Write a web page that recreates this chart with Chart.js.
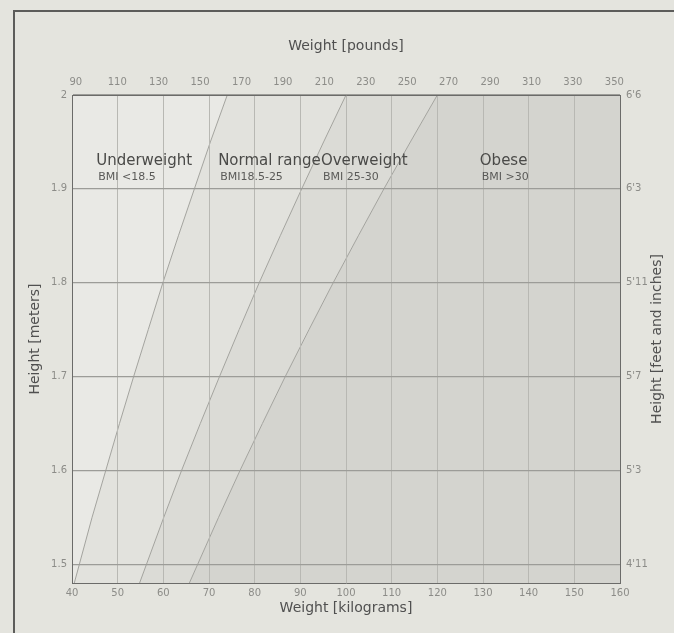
<!DOCTYPE html>
<html>
<head>
<meta charset="utf-8">
<title>BMI chart</title>
<script src="https://cdn.jsdelivr.net/npm/chart.js@4.4.1/dist/chart.umd.min.js"></script>
<style>
  html, body { margin: 0; padding: 0; background: #e4e4de; }
  #wrap { position: relative; width: 674px; height: 633px; overflow: hidden; }
  #frame { position: absolute; left: 13px; top: 10px; width: 700px; height: 700px;
           border-left: 2px solid #5c5c5a; border-top: 2px solid #5c5c5a; }
  canvas { position: absolute; left: 0; top: 0; }
</style>
</head>
<body>
<div id="wrap">
  <div id="frame"></div>
  <canvas id="bmiChart" width="674" height="633"></canvas>
</div>
<script>
// Axis ranges
const kgRange = [40, 160];
const meterRange = [1.48, 2.0];
const poundRange = [88.18, 352.74];

// Tick labels
const kgTicks = [40, 50, 60, 70, 80, 90, 100, 110, 120, 130, 140, 150, 160];
const meterTicks = [1.5, 1.6, 1.7, 1.8, 1.9, 2.0];
const poundTicks = [90, 110, 130, 150, 170, 190, 210, 230, 250, 270, 290, 310, 330, 350];
const feetInchLabels = ["4'11", "5'3", "5'7", "5'11", "6'3", "6'6"];

// BMI boundary curves (weight in kg at each height)
const heights = [1.48, 1.55, 1.6, 1.65, 1.7, 1.75, 1.8, 1.85, 1.9, 1.95, 2.0];
const bmi185Weights = [40.5, 44.4, 47.4, 50.4, 53.5, 56.7, 59.9, 63.3, 66.8, 70.3, 74.0];
const bmi25Weights = [54.8, 60.1, 64.0, 68.1, 72.3, 76.6, 81.0, 85.6, 90.3, 95.1, 100.0];
const bmi30Weights = [65.7, 72.1, 76.8, 81.7, 86.7, 91.9, 97.2, 102.7, 108.3, 114.1, 120.0];

// Region labels
const regionNames = ['Underweight', 'Normal range', 'Overweight', 'Obese'];
const regionRanges = ['BMI <18.5', 'BMI18.5-25', 'BMI 25-30', 'BMI >30'];
const regionLabelKg = [45.3, 72.0, 94.5, 129.3];

const regionColors = ['#e9e9e5', '#e2e2dd', '#dbdbd6', '#d4d4cf'];
const tickColor = '#8c8c88';
const titleColor = '#505050';

Chart.defaults.font.family = '"DejaVu Sans", sans-serif';

function curve(weights) {
    return weights.map((w, i) => ({ x: w, y: heights[i] }));
}

const lineStyle = { borderColor: '#a3a39e', borderWidth: 1, fill: false, pointRadius: 0 };
const areaStyle = { borderWidth: 0, pointRadius: 0, fill: 'shape' };

const labelsPlugin = {
    id: 'regionLabels',
    afterDraw(chart) {
        const { ctx, chartArea, scales: { x, y } } = chart;
        ctx.save();
        ctx.textAlign = 'left';
        ctx.textBaseline = 'middle';
        regionNames.forEach((name, i) => {
            const px = x.getPixelForValue(regionLabelKg[i]);
            ctx.font = '15px "DejaVu Sans"';
            ctx.fillStyle = '#4a4a48';
            ctx.fillText(name, px, y.getPixelForValue(1.93));
            ctx.font = '11px "DejaVu Sans"';
            ctx.fillStyle = '#5a5a58';
            ctx.fillText(regionRanges[i], px + 2, y.getPixelForValue(1.912));
        });
        // right axis title, reading upwards
        ctx.translate(657, (chartArea.top + chartArea.bottom) / 2);
        ctx.rotate(-Math.PI / 2);
        ctx.textAlign = 'center';
        ctx.font = '14px "DejaVu Sans"';
        ctx.fillStyle = titleColor;
        ctx.fillText('Height [feet and inches]', 0, 0);
        ctx.restore();
    }
};

const ctx = document.getElementById('bmiChart').getContext('2d');
new Chart(ctx, {
    type: 'line',
    data: {
        datasets: [
            { data: curve(bmi185Weights), ...lineStyle },
            { data: curve(bmi25Weights), ...lineStyle },
            { data: curve(bmi30Weights), ...lineStyle },
            {
                data: [...curve(bmi185Weights), { x: kgRange[0], y: meterRange[1] }, { x: kgRange[0], y: meterRange[0] }],
                backgroundColor: regionColors[0], ...areaStyle
            },
            {
                data: [...curve(bmi185Weights), ...curve(bmi25Weights).reverse()],
                backgroundColor: regionColors[1], ...areaStyle
            },
            {
                data: [...curve(bmi25Weights), ...curve(bmi30Weights).reverse()],
                backgroundColor: regionColors[2], ...areaStyle
            },
            {
                data: [...curve(bmi30Weights), { x: kgRange[1], y: meterRange[1] }, { x: kgRange[1], y: meterRange[0] }],
                backgroundColor: regionColors[3], ...areaStyle
            }
        ]
    },
    options: {
        responsive: false,
        animation: false,
        layout: { padding: 0 },
        plugins: {
            legend: { display: false },
            tooltip: { enabled: false }
        },
        scales: {
            x: {
                type: 'linear', position: 'bottom', min: kgRange[0], max: kgRange[1],
                afterBuildTicks: s => { s.ticks = kgTicks.map(v => ({ value: v })); },
                afterFit: s => { s.height = 50; },
                grid: { color: '#b8b8b3', lineWidth: 1, drawTicks: false, z: 1 },
                border: { color: '#6b6b69', width: 1, z: 2 },
                ticks: { padding: 4, color: tickColor, font: { size: 10 }, autoSkip: false, maxRotation: 0,
                         callback: v => String(v) },
                title: { display: true, text: 'Weight [kilograms]', color: titleColor, font: { size: 14 },
                         padding: { top: 0, bottom: 16 } }
            },
            x2: {
                type: 'linear', position: 'top', min: poundRange[0], max: poundRange[1],
                afterBuildTicks: s => { s.ticks = poundTicks.map(v => ({ value: v })); },
                afterFit: s => { s.height = 95; },
                grid: { display: false, drawTicks: false },
                border: { color: '#6b6b69', width: 1, z: 2 },
                ticks: { padding: 7, color: tickColor, font: { size: 10 }, autoSkip: false, maxRotation: 0,
                         callback: v => String(v) },
                title: { display: true, text: 'Weight [pounds]', color: titleColor, font: { size: 14 },
                         padding: { top: 38, bottom: 0 } }
            },
            y: {
                type: 'linear', position: 'left', min: meterRange[0], max: meterRange[1],
                afterBuildTicks: s => { s.ticks = meterTicks.map(v => ({ value: v })); },
                afterFit: s => { s.width = 72; },
                grid: { color: '#9c9c98', lineWidth: 1.2, drawTicks: false, z: 1 },
                border: { color: '#6b6b69', width: 1, z: 2 },
                ticks: { padding: 5, color: tickColor, font: { size: 10 }, autoSkip: false,
                         callback: v => String(v) },
                title: { display: true, text: 'Height [meters]', color: titleColor, font: { size: 14 },
                         padding: { top: 27, bottom: 0 } }
            },
            y2: {
                type: 'linear', position: 'right', min: meterRange[0], max: meterRange[1],
                afterBuildTicks: s => { s.ticks = meterTicks.map(v => ({ value: v })); },
                afterFit: s => { s.width = 54; },
                grid: { display: false, drawTicks: false },
                border: { color: '#6b6b69', width: 1, z: 2 },
                ticks: { padding: 6, color: tickColor, font: { size: 10 }, autoSkip: false,
                         callback: (v, i) => feetInchLabels[i] }
            }
        }
    },
    plugins: [labelsPlugin]
});
</script>
</body>
</html>
